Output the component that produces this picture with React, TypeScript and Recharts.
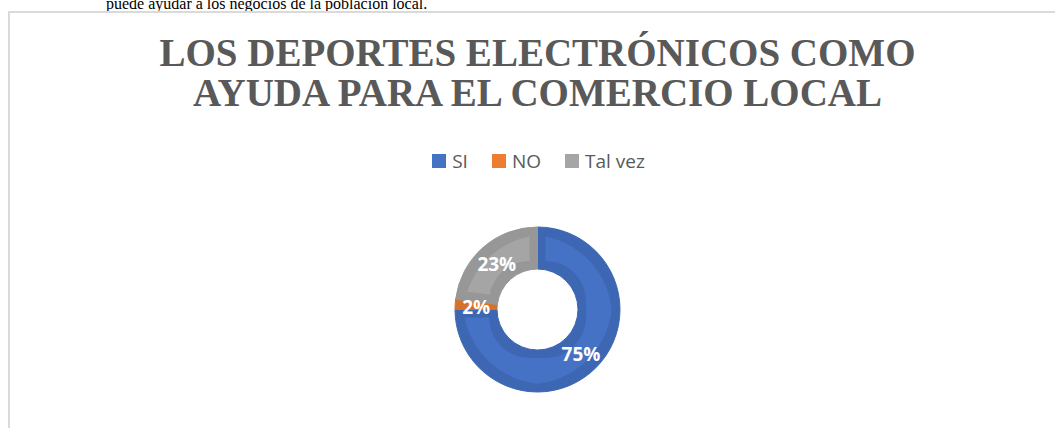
import React from "react"
import { PieChart, Pie, Cell, Legend } from "recharts"

const categories = ["SI", "NO", "Tal vez"]
const values = [75, 2, 23]
const fillColors = ["#4472C4", "#ED7D31", "#A5A5A5"]
const edgeColors = ["#3D67B3", "#D6712C", "#979797"]
const titleLines = ["LOS DEPORTES ELECTRÓNICOS COMO", "AYUDA PARA EL COMERCIO LOCAL"]
const captionText = "puede ayudar a los negocios de la población local."

const data = categories.map((name, i) => ({ name, value: values[i] }))

const RADIAN = Math.PI / 180

function renderLabel(props: any) {
  const { cx, cy, midAngle, innerRadius, outerRadius, percent } = props
  const r = (innerRadius + outerRadius) / 2
  const x = cx + r * Math.cos(-midAngle * RADIAN)
  const y = cy + r * Math.sin(-midAngle * RADIAN)
  return (
    <text
      x={x}
      y={y + 1}
      fill="#ffffff"
      textAnchor="middle"
      dominantBaseline="central"
      fontFamily="'Open Sans', sans-serif"
      fontWeight={700}
      fontSize={19}
    >
      {`${Math.round(percent * 100)}%`}
    </text>
  )
}

function LegendContent({ payload }: any) {
  const items = categories.map((cat) => {
    const hits = (payload || []).filter((p: any) => p.value === cat && p.type !== "none")
    return hits[0] || { value: cat, color: fillColors[categories.indexOf(cat)] }
  })
  return (
    <div
      style={{
        display: "flex",
        justifyContent: "center",
        gap: 24,
        fontFamily: "'Open Sans', sans-serif",
        fontSize: 19,
        lineHeight: "26px",
        color: "#595959",
        paddingLeft: 22,
      }}
    >
      {items.map((p: any) => (
        <div key={p.value} style={{ display: "flex", alignItems: "center" }}>
          <span style={{ width: 14, height: 14, background: p.color, marginRight: 6, display: "inline-block" }} />
          <span>{p.value}</span>
        </div>
      ))}
    </div>
  )
}

export default function App() {
  return (
    <div style={{ position: "absolute", left: 0, top: 0, width: 1055, height: 428, overflow: "hidden", background: "#fff" }}>
      <div
        style={{
          position: "absolute",
          left: 106,
          top: -4,
          fontFamily: "'Liberation Serif', serif",
          fontSize: 16,
          lineHeight: "16px",
          color: "#000",
          whiteSpace: "nowrap",
        }}
      >
        {captionText}
      </div>
      <div style={{ position: "absolute", left: 8, top: 11, width: 1200, height: 600, border: "2px solid #dadada" }} />
      <div
        style={{
          position: "absolute",
          left: 10,
          top: 33,
          width: 1055,
          textAlign: "center",
          fontFamily: "'Liberation Serif', serif",
          fontWeight: 700,
          fontSize: 39,
          lineHeight: "40px",
          color: "#595959",
        }}
      >
        {titleLines.map((t) => (
          <div key={t}>{t}</div>
        ))}
      </div>
      <div style={{ position: "absolute", left: 0, top: 0 }}>
        <PieChart width={1055} height={428} margin={{ top: 0, right: 0, bottom: 0, left: 0 }}>
          <defs>
            <filter id="bevel" x="-20%" y="-20%" width="140%" height="140%">
              <feMorphology operator="erode" radius={8} />
            </filter>
          </defs>
          <Legend verticalAlign="bottom" content={LegendContent} wrapperStyle={{ top: 148, left: 0, width: 1055 }} />
          <Pie
            data={data}
            dataKey="value"
            nameKey="name"
            cx={537.5}
            cy={309.5}
            innerRadius={40.5}
            outerRadius={82.5}
            startAngle={90}
            endAngle={-270}
            legendType="none"
            isAnimationActive={false}
          >
            {data.map((d, i) => (
              <Cell key={d.name} fill={edgeColors[i]} stroke={edgeColors[i]} strokeWidth={1} />
            ))}
          </Pie>
          <Pie
            data={data}
            dataKey="value"
            nameKey="name"
            cx={537.5}
            cy={309.5}
            innerRadius={40.5}
            outerRadius={82.5}
            startAngle={90}
            endAngle={-270}
            stroke="none"
            label={renderLabel}
            labelLine={false}
            isAnimationActive={false}
          >
            {data.map((d, i) => (
              <Cell key={d.name} fill={fillColors[i]} filter="url(#bevel)" />
            ))}
          </Pie>
        </PieChart>
      </div>
    </div>
  )
}
